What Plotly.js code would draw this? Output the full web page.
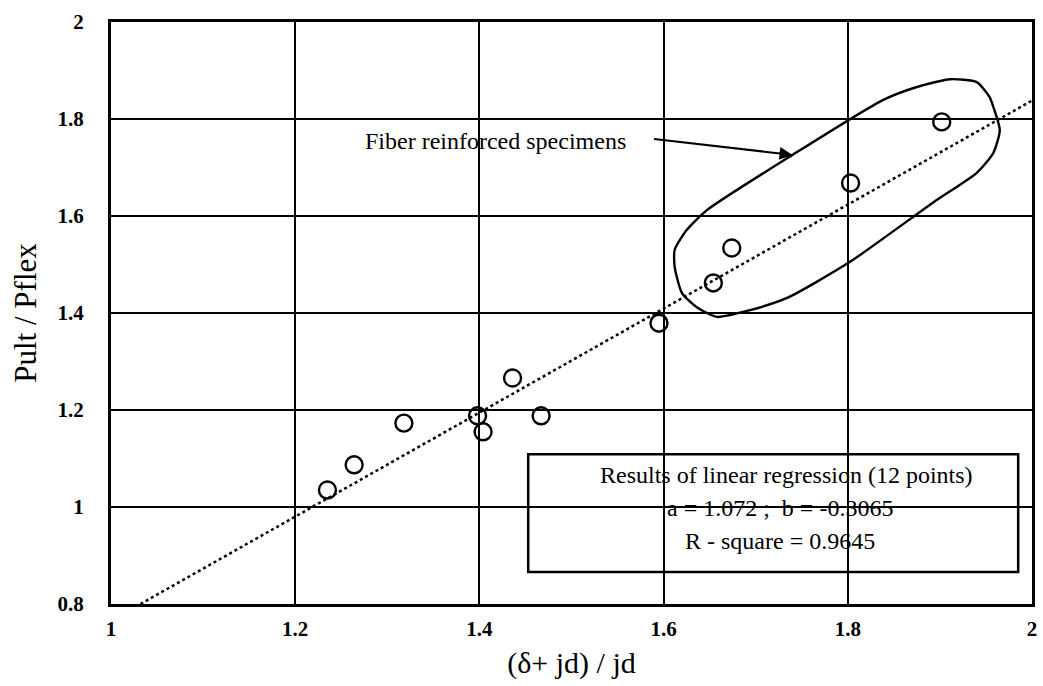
<!DOCTYPE html>
<html><head><meta charset="utf-8">
<script src="https://cdn.plot.ly/plotly-3.0.1.min.js"></script>
<style>body{margin:0;background:#fff}#plot{width:1043px;height:686px}</style>
</head><body><div id="plot"></div>
<script>
// measured points
const ratioX = [1.235, 1.264, 1.318, 1.398, 1.404, 1.436, 1.467, 1.595, 1.654, 1.674, 1.803, 1.902];
const ratioY = [1.035, 1.087, 1.173, 1.188, 1.155, 1.266, 1.188, 1.379, 1.462, 1.534, 1.668, 1.794];
// regression line endpoints (a = 1.072, b = -0.3065)
const regX = [1.032, 2.0];
const regY = [0.8, 1.838];
// outline around fiber reinforced specimens
const loopX = [1.958,1.965,1.958,1.940,1.892,1.802,1.734,1.694,1.658,1.636,1.620,1.612,1.612,1.625,1.647,1.740,1.838,1.875,1.911,1.940,1.954,1.958];
const loopY = [1.825,1.777,1.730,1.689,1.627,1.505,1.431,1.406,1.392,1.412,1.441,1.495,1.530,1.571,1.612,1.726,1.839,1.866,1.882,1.876,1.845,1.825];
const xTicks = [1, 1.2, 1.4, 1.6, 1.8, 2];
const xTickText = ['1', '1.2', '1.4', '1.6', '1.8', '2'];
const yTicks = [0.8, 1, 1.2, 1.4, 1.6, 1.8, 2];
const yTickText = ['0.8', '1', '1.2', '1.4', '1.6', '1.8', '2'];
const regLines = ['Results of linear regression (12 points)', 'a = 1.072 ;  b = -0.3065', 'R - square = 0.9645'];

const serif = 'Liberation Serif, Times New Roman, serif';
const traces = [
  {x: regX, y: regY, mode: 'lines', line: {color: '#000', width: 2.5, dash: 'dot'}, hoverinfo: 'skip', showlegend: false},
  {x: loopX, y: loopY, mode: 'lines', line: {color: '#000', width: 2.4, shape: 'spline', smoothing: 0.6}, hoverinfo: 'skip', showlegend: false},
  {x: ratioX, y: ratioY, mode: 'markers', marker: {symbol: 'circle-open', size: 17, color: '#000', line: {width: 2.4, color: '#000'}}, showlegend: false}
];
const layout = {
  width: 1043, height: 686,
  margin: {l: 111, r: 11, t: 22, b: 82},
  paper_bgcolor: '#fff', plot_bgcolor: '#fff',
  font: {family: serif, color: '#000'},
  xaxis: {range: [1, 2], tickvals: xTicks, ticktext: xTickText, showgrid: true, gridcolor: '#000', gridwidth: 2,
    zeroline: false, showline: true, linecolor: '#000', linewidth: 3, mirror: true, ticks: '', ticklabelstandoff: 4,
    tickfont: {family: serif, size: 21, color: '#000', weight: 'bold'},
    title: {text: '(δ+ jd) / jd', font: {family: serif, size: 30, color: '#000'}, standoff: 12}},
  yaxis: {range: [0.8, 2], tickvals: yTicks, ticktext: yTickText, showgrid: true, gridcolor: '#000', gridwidth: 2,
    zeroline: false, showline: true, linecolor: '#000', linewidth: 3, mirror: true, ticks: '', ticklabelstandoff: 20,
    tickfont: {family: serif, size: 21, color: '#000', weight: 'bold'},
    title: {text: 'Pult / Pflex', font: {family: serif, size: 31, color: '#000'}, standoff: 12}},
  shapes: [
    {type: 'rect', xref: 'x', yref: 'y', x0: 1.453, x1: 1.985, y0: 0.866, y1: 1.109, line: {color: '#000', width: 2.5}, fillcolor: 'rgba(255,255,255,0)', layer: 'above'}
  ],
  annotations: [
    {x: 1.417, y: 1.755, xref: 'x', yref: 'y', text: 'Fiber reinforced specimens', showarrow: false, font: {family: serif, size: 24, color: '#000'}},
    {x: 1.740, y: 1.726, ax: 1.588, ay: 1.759, xref: 'x', yref: 'y', axref: 'x', ayref: 'y', text: '', showarrow: true, arrowhead: 2, arrowsize: 1.3, arrowwidth: 2, arrowcolor: '#000'},
    {x: 1.733, y: 1.066, xref: 'x', yref: 'y', text: regLines[0], showarrow: false, font: {family: serif, size: 24, color: '#000'}},
    {x: 1.726, y: 0.998, xref: 'x', yref: 'y', text: regLines[1], showarrow: false, font: {family: serif, size: 24, color: '#000'}},
    {x: 1.726, y: 0.930, xref: 'x', yref: 'y', text: regLines[2], showarrow: false, font: {family: serif, size: 24, color: '#000'}}
  ]
};
Plotly.newPlot('plot', traces, layout, {staticPlot: true});
</script></body></html>
